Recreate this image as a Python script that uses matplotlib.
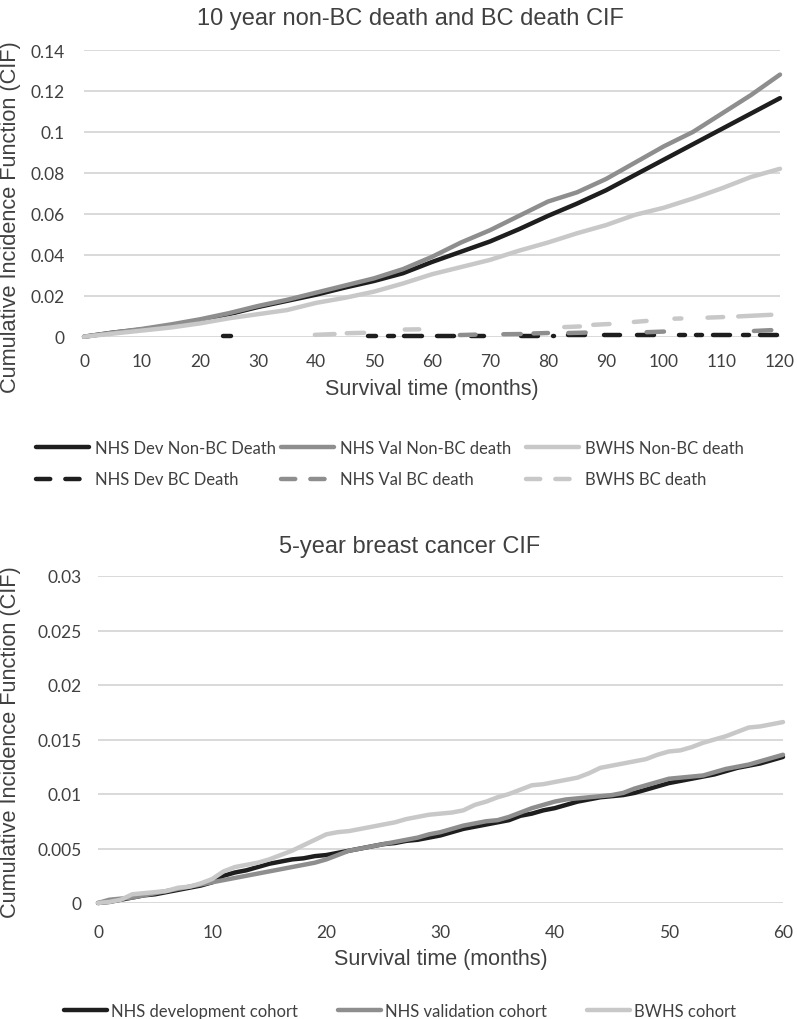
import numpy as np
import matplotlib
matplotlib.use("Agg")
import matplotlib.pyplot as plt
from matplotlib.lines import Line2D
from matplotlib.ticker import FuncFormatter, MultipleLocator

nan = np.nan

# ---------------- Top chart data (10 year non-BC death and BC death CIF) ----------------
months_10y = [0, 5, 10, 15, 20, 25, 30, 35, 40, 45, 50, 55, 60, 65, 70, 75, 80, 85, 90, 95, 100, 105, 110, 115, 120]
nhs_dev_nonbc = [0, 0.002, 0.0035, 0.0055, 0.0078, 0.011, 0.0145, 0.0175, 0.0205, 0.024, 0.0272, 0.031, 0.0365,
                 0.0415, 0.0465, 0.0525, 0.059, 0.065, 0.0715, 0.079, 0.0865, 0.094, 0.1015, 0.109, 0.1165]
nhs_val_nonbc = [0, 0.002, 0.0038, 0.006, 0.0085, 0.0115, 0.015, 0.018, 0.0215, 0.025, 0.0285, 0.033, 0.039,
                 0.046, 0.052, 0.059, 0.066, 0.0705, 0.077, 0.085, 0.093, 0.1, 0.109, 0.118, 0.128]
bwhs_nonbc = [0, 0.0015, 0.003, 0.0045, 0.0065, 0.009, 0.011, 0.013, 0.0165, 0.019, 0.022, 0.026, 0.0305,
              0.034, 0.0375, 0.042, 0.046, 0.0505, 0.0545, 0.0595, 0.063, 0.0675, 0.0725, 0.078, 0.082]

# BC death series: only partially present (gaps = missing values)
nhs_dev_bc_t = [24, 25.3, nan, 49, 50.3, nan, 52.4, 53.4, nan, 55.2, 58.2, nan, 60.8, 63.8, nan, 66.8, 69, nan,
                75.3, 78.2, nan, 80.9, 81.1, nan, 83.4, 86.4, nan, 89.6, 92.4, nan, 95.4, 98.2, nan,
                102.6, 103.6, nan, 105.6, 106.6, nan, 108.4, 111.4, nan, 113.6, 114.6, nan, 116.6, 119.4]
nhs_dev_bc_v = [0.0003, 0.0003, nan, 0.0003, 0.0003, nan, 0.0003, 0.0003, nan, 0.0004, 0.0004, nan, 0.0004, 0.0004, nan,
                0.0004, 0.0004, nan, 0.0005, 0.0005, nan, 0.0005, 0.0005, nan, 0.0006, 0.0006, nan, 0.0006, 0.0006, nan,
                0.0007, 0.0007, nan, 0.0007, 0.0007, nan, 0.0008, 0.0008, nan, 0.0008, 0.0008, nan, 0.0008, 0.0008, nan,
                0.0009, 0.0009]
nhs_val_bc_t = [64.8, 67.5, nan, 72.3, 75.3, nan, 77.5, 80, nan, 83.5, 86.5, nan, 97, 100, nan, 115.5, 118.5]
nhs_val_bc_v = [0.0008, 0.001, nan, 0.0012, 0.0013, nan, 0.0016, 0.0018, nan, 0.0018, 0.002, nan, 0.0022, 0.0025, nan,
                0.0028, 0.0032]
bwhs_bc_t = [39.8, 43.2, nan, 45.3, 48.3, nan, 55.3, 57.8, nan, 82.8, 85.5, nan, 87.8, 90.6, nan, 94.8, 97, nan,
             101.8, 103, nan, 107.5, 110.2, nan, 112.8, 118.5]
bwhs_bc_v = [0.0009, 0.0013, nan, 0.0017, 0.0019, nan, 0.0035, 0.0036, nan, 0.0047, 0.005, nan, 0.0058, 0.0062, nan,
             0.0072, 0.0077, nan, 0.0088, 0.0089, nan, 0.0093, 0.0096, nan, 0.0099, 0.0107]

top_labels = ["NHS Dev Non-BC Death", "NHS Val Non-BC death", "BWHS Non-BC death",
              "NHS Dev BC Death", "NHS Val BC death", "BWHS BC death"]

# ---------------- Bottom chart data (5-year breast cancer CIF) ----------------
months_5y = list(range(0, 61))
nhs_dev_bc5 = [0, 0.0001, 0.0003, 0.0005, 0.0007, 0.0008, 0.001, 0.0012, 0.0014, 0.0016, 0.0019, 0.0025, 0.0028,
               0.003, 0.0033, 0.0036, 0.0038, 0.004, 0.0041, 0.0043, 0.0044, 0.0046, 0.0048, 0.005, 0.0052, 0.0054,
               0.0055, 0.0057, 0.0058, 0.006, 0.0062, 0.0065, 0.0068, 0.007, 0.0072, 0.0074, 0.0076, 0.008, 0.0082,
               0.0085, 0.0087, 0.009, 0.0093, 0.0095, 0.0097, 0.0098, 0.0099, 0.0101, 0.0104, 0.0107, 0.011, 0.0112,
               0.0114, 0.0116, 0.0118, 0.0121, 0.0124, 0.0126, 0.0128, 0.0131, 0.0134]
nhs_val_bc5 = [0, 0.0003, 0.0004, 0.0005, 0.0007, 0.0009, 0.0011, 0.0013, 0.0015, 0.0017, 0.0019, 0.0021, 0.0023,
               0.0025, 0.0027, 0.0029, 0.0031, 0.0033, 0.0035, 0.0037, 0.004, 0.0044, 0.0048, 0.005, 0.0052, 0.0054,
               0.0056, 0.0058, 0.006, 0.0063, 0.0065, 0.0068, 0.0071, 0.0073, 0.0075, 0.0076, 0.0079, 0.0083, 0.0087,
               0.009, 0.0093, 0.0095, 0.0096, 0.0097, 0.0098, 0.0099, 0.0101, 0.0105, 0.0108, 0.0111, 0.0114, 0.0115,
               0.0116, 0.0117, 0.012, 0.0123, 0.0125, 0.0127, 0.013, 0.0133, 0.0136]
bwhs_bc5 = [0, 0.0001, 0.0003, 0.0008, 0.0009, 0.001, 0.0011, 0.0014, 0.0015, 0.0018, 0.0022, 0.0029, 0.0033,
            0.0035, 0.0037, 0.004, 0.0044, 0.0048, 0.0053, 0.0058, 0.0063, 0.0065, 0.0066, 0.0068, 0.007, 0.0072,
            0.0074, 0.0077, 0.0079, 0.0081, 0.0082, 0.0083, 0.0085, 0.009, 0.0093, 0.0097, 0.01, 0.0104, 0.0108,
            0.0109, 0.0111, 0.0113, 0.0115, 0.0119, 0.0124, 0.0126, 0.0128, 0.013, 0.0132, 0.0136, 0.0139, 0.014,
            0.0143, 0.0147, 0.015, 0.0153, 0.0157, 0.0161, 0.0162, 0.0164, 0.0166]
bottom_labels = ["NHS development cohort", "NHS validation cohort", "BWHS cohort"]

# ---------------- Styling ----------------
BLACK = "#1e1e1e"
MID = "#8e8e8e"
LIGHT = "#c8c8c8"
GRID = "#d9d9d9"
TXT = "#404040"
LW = 3.2
TITLE_FONT = ["Liberation Sans", "DejaVu Sans"]
TICK_FONT = ["Lato", "DejaVu Sans"]

W, H = 797, 1020
fig = plt.figure(figsize=(W / 100, H / 100), dpi=100)


def fx(px):
    return px / W


def fy(py):
    return 1 - py / H


fmt = FuncFormatter(lambda v, p: "0" if abs(v) < 1e-12 else f"{v:g}")


def style_axes(ax, ymax, ystep, xmax, xstep, ypad, xpad):
    ax.set_xlim(0, xmax)
    ax.set_ylim(0, ymax)
    ax.yaxis.set_major_locator(MultipleLocator(ystep))
    ax.xaxis.set_major_locator(MultipleLocator(xstep))
    ax.yaxis.set_major_formatter(fmt)
    ax.grid(axis="y", color=GRID, lw=1.4)
    ax.set_axisbelow(True)
    for s in ax.spines.values():
        s.set_visible(False)
    ax.tick_params(axis="y", length=0, pad=ypad, labelsize=12.5, labelcolor=TXT)
    ax.tick_params(axis="x", length=0, pad=xpad, labelsize=12.5, labelcolor=TXT)
    for lab in ax.get_xticklabels() + ax.get_yticklabels():
        lab.set_family(TICK_FONT)


# ---------------- Top chart ----------------
ax1 = fig.add_axes([fx(84), fy(337.7), fx(780) - fx(84), fy(51) - fy(337.7)])
ax1.plot(months_10y, nhs_dev_nonbc, color=BLACK, lw=LW, solid_capstyle="round", clip_on=False)
ax1.plot(months_10y, nhs_val_nonbc, color=MID, lw=LW, solid_capstyle="round", clip_on=False)
ax1.plot(months_10y, bwhs_nonbc, color=LIGHT, lw=LW, solid_capstyle="round", clip_on=False)
ax1.plot(nhs_dev_bc_t, nhs_dev_bc_v, color=BLACK, lw=LW, solid_capstyle="round", clip_on=False)
ax1.plot(nhs_val_bc_t, nhs_val_bc_v, color=MID, lw=LW, solid_capstyle="round", clip_on=False)
ax1.plot(bwhs_bc_t, bwhs_bc_v, color=LIGHT, lw=LW, solid_capstyle="round", clip_on=False)
style_axes(ax1, 0.14, 0.02, 120, 10, 14, 12)
ax1.set_xlabel("Survival time (months)", fontsize=15.5, color=TXT, family=TITLE_FONT, labelpad=6)
fig.text(fx(410), fy(19), "10 year non-BC death and BC death CIF", ha="center", va="center",
         fontsize=17, color=TXT, family=TITLE_FONT)
fig.text(fx(11), fy(217), "Cumulative Incidence Function (CIF)", rotation=90, ha="center", va="center",
         fontsize=15.7, color=TXT, family=TITLE_FONT)

# ---------------- Bottom chart ----------------
ax2 = fig.add_axes([fx(98), fy(904), fx(783) - fx(98), fy(577) - fy(904)])
ax2.plot(months_5y, nhs_dev_bc5, color=BLACK, lw=LW, solid_capstyle="round", clip_on=False)
ax2.plot(months_5y, nhs_val_bc5, color=MID, lw=LW, solid_capstyle="round", clip_on=False)
ax2.plot(months_5y, bwhs_bc5, color=LIGHT, lw=LW, solid_capstyle="round", clip_on=False)
style_axes(ax2, 0.03, 0.005, 60, 10, 12, 15)
ax2.set_xlabel("Survival time (months)", fontsize=15.5, color=TXT, family=TITLE_FONT, labelpad=6)
fig.text(fx(410), fy(547), "5-year breast cancer CIF", ha="center", va="center",
         fontsize=17, color=TXT, family=TITLE_FONT)
fig.text(fx(11), fy(742), "Cumulative Incidence Function (CIF)", rotation=90, ha="center", va="center",
         fontsize=15.7, color=TXT, family=TITLE_FONT)

# ---------------- Legends ----------------
LEG_FS = 12
fs_px = LEG_FS * 100 / 72


def make_handle(color, dashed):
    if dashed:
        return Line2D([], [], color=color, lw=LW, linestyle=(0, (3.2, 3.4)), dash_capstyle="round")
    return Line2D([], [], color=color, lw=LW, solid_capstyle="round")


top_colors = [BLACK, MID, LIGHT]
top_cols_x = [36, 281, 526]
for i in range(3):
    handles = [make_handle(top_colors[i], False), make_handle(top_colors[i], True)]
    labels = [top_labels[i], top_labels[i + 3]]
    leg = fig.legend(handles, labels, loc="center left", bbox_to_anchor=(fx(top_cols_x[i]), fy(464.5)),
                     frameon=False, borderpad=0, borderaxespad=0, handlelength=53 / fs_px,
                     handletextpad=6 / fs_px, labelspacing=(35 - fs_px * 1.15) / fs_px,
                     prop={"family": TICK_FONT, "size": LEG_FS})
    for t in leg.get_texts():
        t.set_color(TXT)

bot_colors = [BLACK, MID, LIGHT]
bot_cols_x = [64, 338, 587]
for i in range(3):
    leg = fig.legend([make_handle(bot_colors[i], False)], [bottom_labels[i]], loc="center left",
                     bbox_to_anchor=(fx(bot_cols_x[i]), fy(1012)), frameon=False, borderpad=0,
                     borderaxespad=0, handlelength=43 / fs_px, handletextpad=4 / fs_px,
                     prop={"family": TICK_FONT, "size": LEG_FS})
    for t in leg.get_texts():
        t.set_color(TXT)

fig.savefig("out.png", dpi=100)
